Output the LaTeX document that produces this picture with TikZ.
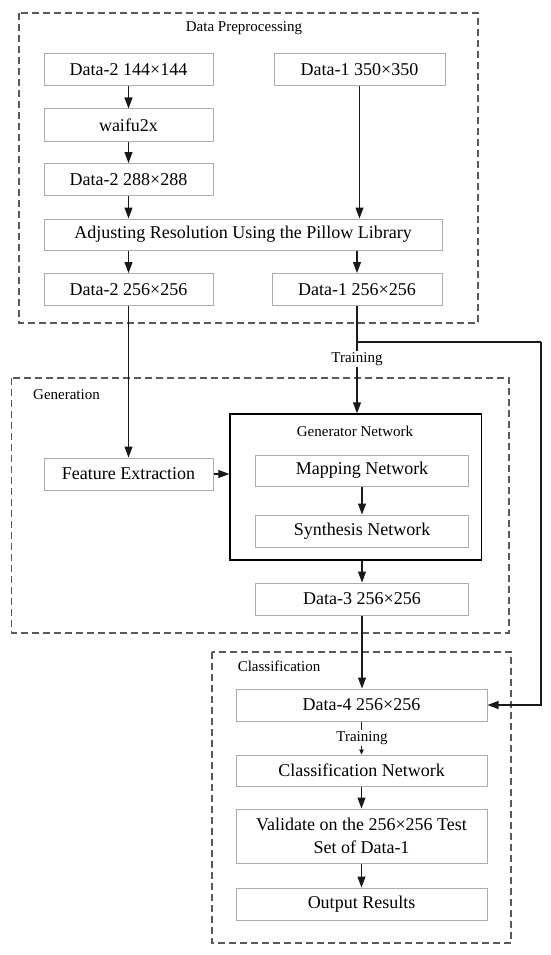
\documentclass[tikz,border=0pt]{standalone}
\usepackage{fontspec}
\setmainfont{Liberation Serif}
\usetikzlibrary{arrows.meta}
\begin{document}
\begin{tikzpicture}[x=1pt,y=-1pt,
  box/.style={draw=gray!65, line width=1pt, rectangle, minimum height=32pt, inner sep=0pt, align=center, font=\fontsize{18}{22.7}\selectfont, text=black},
  wbox/.style={box, minimum width=169pt},
  cbox/.style={box, minimum width=251pt},
  gbox/.style={box, minimum width=212.5pt},
  group/.style={draw=gray!70!black, line width=1.2pt, dash pattern=on 7pt off 4pt},
  lab/.style={font=\fontsize{15}{18}\selectfont, inner sep=1pt, text=black},
  arr/.style={draw=black!90, line width=1.1pt, -{Triangle[length=11pt,width=8pt]}},
  sarr/.style={draw=black!90, line width=0.9pt, -{Triangle[length=5pt,width=4.5pt]}},
  line/.style={draw=black!90, line width=1.1pt}
]
\useasboundingbox (0,0) rectangle (550,955);
\fill[white] (0,0) rectangle (550,955);

% group containers
\draw[group] (19,13) rectangle (478,323);
\draw[group] (11.6,378) rectangle (509,633);
\draw[group] (212,652) rectangle (511,943);
\node[lab] (tpre) at (244,28) {Data Preprocessing};
\node[lab] (tgen) at (66.5,395) {Generation};
\node[lab] (tcls) at (279,666) {Classification};

% preprocessing
\node[wbox] (d2a) at (128.5,70) {Data-2 144×144};
\node[box, minimum width=171pt] (d1a) at (359.5,70) {Data-1 350×350};
\node[wbox] (wf) at (128.5,125) {waifu2x};
\node[wbox] (d2b) at (128.5,179.5) {Data-2 288×288};
\node[box, minimum width=398pt, minimum height=31pt] (adj) at (243,234.5) {Adjusting Resolution Using the Pillow Library};
\node[wbox] (d2c) at (128.5,289.5) {Data-2 256×256};
\node[box, minimum width=170pt] (d1c) at (357,289.5) {Data-1 256×256};

% generation
\node[wbox] (fe) at (128.5,474) {Feature Extraction};
\node[draw=black, line width=1.4pt, rectangle, minimum width=251.5pt, minimum height=146pt, inner sep=0pt] (gen) at (355.75,487) {};
\node[lab] (gtitle) at (355,431) {Generator Network};
\node[gbox, minimum height=31pt] (map) at (362,470.5) {Mapping Network};
\node[gbox] (syn) at (362,531) {Synthesis Network};
\node[gbox] (d3) at (362,599) {Data-3 256×256};

% classification
\node[cbox] (d4) at (361.5,705) {Data-4 256×256};
\node[cbox, minimum height=31pt] (cn) at (361.5,770.5) {Classification Network};
\node[cbox, minimum height=54pt] (val) at (361.5,836) {Validate on the 256×256 Test\\Set of Data-1};
\node[cbox] (out) at (361.5,904) {Output Results};

% connectors preprocessing
\draw[arr] (d2a.south) -- (wf.north);
\draw[arr] (wf.south) -- (d2b.north);
\draw[arr] (d2b.south) -- (d2b.south |- adj.north);
\draw[arr] (d1a.south) -- (d1a.south |- adj.north);
\draw[arr] (adj.south -| d2c) -- (d2c.north);
\draw[arr] (adj.south -| d1c) -- (d1c.north);

% to generation
\draw[arr] (d2c.south) -- (fe.north);
\draw[arr] (d1c.south) -- (d1c.south |- gen.north);
\node[lab, fill=white] (tr1) at (357,359) {Training};
\coordinate (br) at (357,342);
\coordinate (rc) at (541,342);
\draw[line] (br) -- (rc);
\draw[arr] (rc) |- (d4.east);

\draw[arr] (fe.east) -- (fe.east -| gen.west);
\draw[arr] (map.south) -- (syn.north);
\draw[arr] (d3.north |- gen.south) -- (d3.north);

% to classification
\draw[arr] (d3.south) -- (d3.south |- d4.north);
\draw[sarr] (d4.south) -- (cn.north);
\node[lab, fill=white] (tr2) at (362,738) {Training};
\draw[arr] (cn.south) -- (val.north);
\draw[arr] (val.south) -- (out.north);
\end{tikzpicture}
\end{document}
